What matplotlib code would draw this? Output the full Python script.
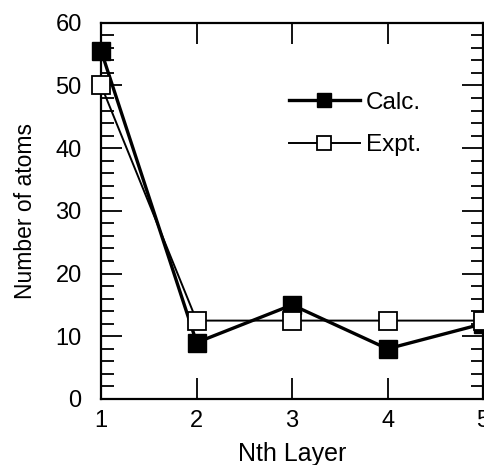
import matplotlib
matplotlib.use('Agg')
import matplotlib.pyplot as plt
from matplotlib.ticker import MultipleLocator

layers = [1, 2, 3, 4, 5]
calc = [55.5, 9, 15, 8, 12]
expt = [50, 12.5, 12.5, 12.5, 12.5]

plt.rcParams['font.family'] = ['Liberation Sans', 'DejaVu Sans']

fig = plt.figure(figsize=(4.84, 4.65), dpi=100)
ax = fig.add_axes([0.209, 0.142, 0.789, 0.809])

ax.plot(layers, expt, color='black', lw=1.4, marker='s', ms=13,
        mfc='white', mec='black', mew=1.3, label='Expt.', clip_on=False, zorder=3)
ax.plot(layers, calc, color='black', lw=2.4, marker='s', ms=13,
        mfc='black', mec='black', label='Calc.', clip_on=False, zorder=2)

ax.set_xlim(1, 5)
ax.set_ylim(0, 60)
ax.xaxis.set_major_locator(MultipleLocator(1))
ax.yaxis.set_major_locator(MultipleLocator(10))
ax.yaxis.set_minor_locator(MultipleLocator(2))
ax.tick_params(which='both', direction='in', top=True, right=True,
               labelsize=17, width=1.3)
ax.tick_params(axis='y', pad=14)
ax.tick_params(axis='x', pad=8)
ax.tick_params(which='major', length=15)
ax.tick_params(which='minor', length=9)
for s in ax.spines.values():
    s.set_linewidth(1.6)

ax.set_xlabel('Nth Layer', fontsize=18, labelpad=7)
ax.set_ylabel('Number of atoms', fontsize=16.5, labelpad=13)

h, l = ax.get_legend_handles_labels()
ax.legend(h[::-1], l[::-1], loc='upper left', bbox_to_anchor=(0.435, 0.875),
          frameon=False, fontsize=17.5, handlelength=2.9, markerscale=0.8,
          labelspacing=0.85, handletextpad=0.25)

fig.savefig('out.png', dpi=100)
